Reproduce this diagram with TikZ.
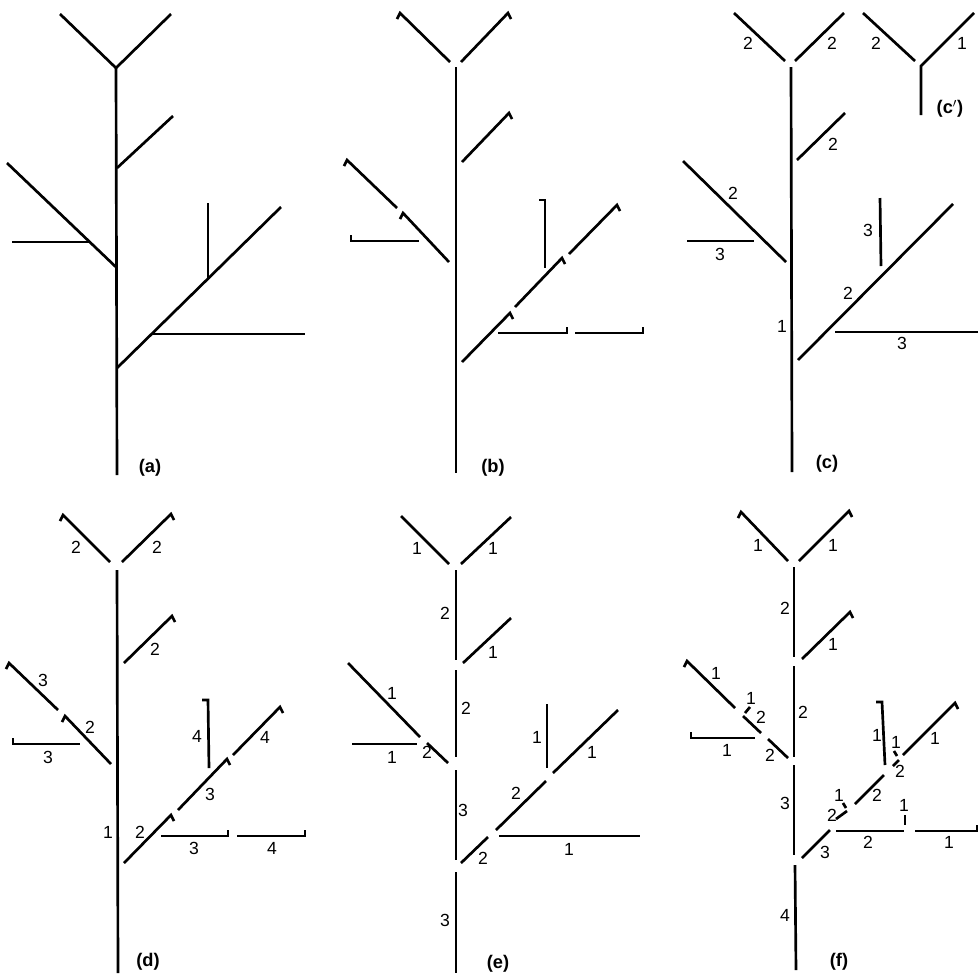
\documentclass[tikz,border=0pt]{standalone}
\usepackage{fontspec}
\setsansfont{Liberation Sans}

\begin{document}
\begin{tikzpicture}[x=0.025cm, y=-0.025cm, line width=1.9pt,
    lbl/.style={font=\sffamily\fontsize{12.5}{14}\selectfont, inner sep=0pt},
    panel/.style={font=\sffamily\bfseries\fontsize{13}{15}\selectfont, inner sep=0pt}]
    \useasboundingbox (0,0) rectangle (978,976);

    % (a)
    \draw (60,14) -- (116,68) -- (171,14);
    \draw (116,68) -- (117,475);
    \draw (117,168) -- (173,116);
    \draw (117,268) -- (7,163);
    \draw (12,242) -- (90,242);
    \draw (117,368) -- (281,207);
    \draw (208,278) -- (208,203);
    \draw (151,334) -- (305,334);
    \node[panel] (pa) at (150,468) {(a)};

    % (b)
    \draw (397,19) -- (400,13) -- (450,62);
    \draw (461,62) -- (508,13) -- (511,19);
    \draw (456,67) -- (456,473);
    \draw (462,162) -- (509,113) -- (512,119);
    \draw (344,166) -- (347,160) -- (397,208);
    \draw (400,219) -- (403,213) -- (449,262);
    \draw (351,235) -- (351,241) -- (419,241);
    \draw (539,200) -- (545,200) -- (545,268);
    \draw (462,362) -- (510,313) -- (513,319);
    \draw (515,307) -- (562,258) -- (565,264);
    \draw (569,254) -- (617,205) -- (620,211);
    \draw (498,333) -- (567,333) -- (567,327);
    \draw (575,333) -- (643,333) -- (643,327);
    \node[panel] (pb) at (493,468) {(b)};

    % (c)
    \draw (734,13) -- (785,61);
    \draw (795,61) -- (844,13);
    \draw (791,67) -- (792,472);
    \draw (797,160) -- (845,113);
    \draw (683,161) -- (786,262);
    \draw (687,241) -- (754,241);
    \draw (880,198) -- (881,266);
    \draw (798,360) -- (953,204);
    \draw (835,332) -- (978,332);
    \foreach \x/\y/\t [count=\i] in {748/43/2, 832/43/2, 833/144/2, 733/193/2,
        720/254/3, 868/230/3, 848/293/2, 782/326/1, 902/343/3}
        \node[lbl] (c\i) at (\x,\y) {\t};
    \node[panel] (pc) at (827,464) {(c)};

    % (c')
    \draw (863,13) -- (915,61);
    \draw (974,13) -- (921,66) -- (921,115);
    \node[lbl] (cc1) at (876,43) {2};
    \node[lbl] (cc2) at (962,43) {1};
    \node[panel] (pcc) at (950,109) {(c$'$)};

    % (d)
    \draw (60,521) -- (63,515) -- (110,562);
    \draw (122,562) -- (171,514) -- (174,520);
    \draw (117,570) -- (118,973);
    \draw (124,663) -- (172,616) -- (175,622);
    \draw (6,669) -- (9,663) -- (58,710);
    \draw (62,722) -- (65,716) -- (111,764);
    \draw (13,738) -- (13,744) -- (80,744);
    \draw (202,700) -- (208,700) -- (209,768);
    \draw (124,863) -- (171,815) -- (174,821);
    \draw (178,810) -- (227,759) -- (230,765);
    \draw (233,755) -- (280,707) -- (283,713);
    \draw (161,836) -- (228,836) -- (228,830);
    \draw (237,836) -- (305,836) -- (305,830);
    \foreach \x/\y/\t [count=\i] in {76/547/2, 157/547/2, 155/649/2, 43/680/3,
        90/727/2, 48/757/3, 197/736/4, 265/737/4, 210/794/3, 108/832/1,
        140/832/2, 194/848/3, 272/848/4}
        \node[lbl] (d\i) at (\x,\y) {\t};
    \node[panel] (pd) at (148,962) {(d)};

    % (e)
    \draw (401,516) -- (449,564);
    \draw (461,564) -- (511,517);
    \draw (456,570) -- (456,660);
    \draw (456,670) -- (456,757);
    \draw (456,770) -- (456,860);
    \draw (456,872) -- (456,973);
    \draw (463,663) -- (511,618);
    \draw (348,663) -- (420,737);
    \draw (427,743) -- (448,763);
    \draw (352,744) -- (417,744);
    \draw (547,704) -- (547,768);
    \draw (461,863) -- (488,837);
    \draw (496,830) -- (546,781);
    \draw (553,773) -- (618,710);
    \draw (499,836) -- (640,836);
    \foreach \x/\y/\t [count=\i] in {417/548/1, 493/548/1, 445/613/2, 493/652/1,
        392/693/1, 466/708/2, 392/757/1, 427/752/2, 537/737/1, 592/752/1,
        463/810/3, 516/793/2, 483/858/2, 569/849/1, 445/920/3}
        \node[lbl] (e\i) at (\x,\y) {\t};
    \node[panel] (pe) at (498,964) {(e)};

    % (f)
    \draw (738,518) -- (741,512) -- (788,561);
    \draw (799,561) -- (849,511) -- (852,517);
    \draw (794,567) -- (794,657);
    \draw (794,666) -- (794,757);
    \draw (794,765) -- (794,855);
    \draw (795,865) -- (796,970);
    \draw (802,659) -- (850,612) -- (853,618);
    \draw (684,667) -- (687,661) -- (735,708);
    \draw (745,713) -- (750,707);
    \draw (743,716) -- (761,733);
    \draw (768,739) -- (788,758);
    \draw (691,732) -- (691,738) -- (755,738);
    \draw (876,702) -- (882,702) -- (885,765);
    \draw (903,755) -- (955,703) -- (958,709);
    \draw (894,751) -- (897,756);
    \draw (893,766) -- (899,760);
    \draw (855,804) -- (884,775);
    \draw (843,803) -- (846,808);
    \draw (836,819) -- (847,811);
    \draw (802,858) -- (830,830);
    \draw (836,831) -- (904,831);
    \draw (905,815) -- (905,825);
    \draw (915,831) -- (977,831) -- (977,825);
    \foreach \x/\y/\t [count=\i] in {758/545/1, 833/545/1, 785/608/2, 833/644/1,
        716/673/1, 751/698/1, 761/717/2, 803/712/2, 727/750/1, 770/755/2,
        785/803/3, 877/735/1, 935/738/1, 896/742/1, 900/771/2, 877/795/2,
        839/795/1, 832/815/2, 825/852/3, 868/842/2, 904/805/1, 949/842/1,
        785/915/4}
        \node[lbl] (f\i) at (\x,\y) {\t};
    \node[panel] (pf) at (839,962) {(f)};
\end{tikzpicture}
\end{document}
